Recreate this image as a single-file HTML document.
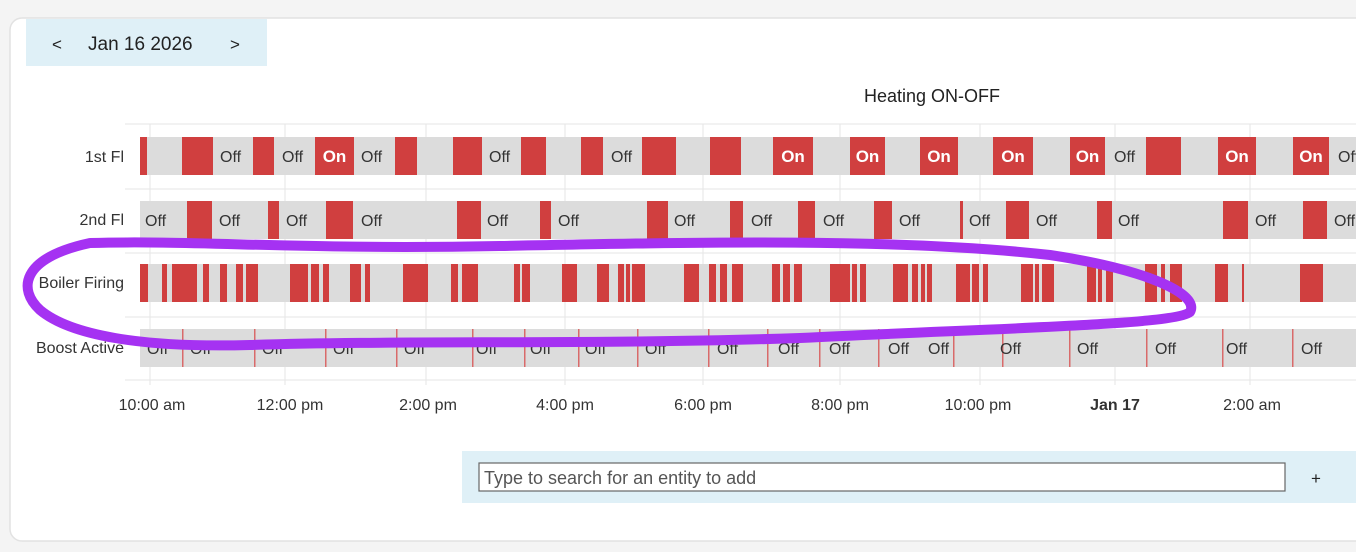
<!DOCTYPE html>
<html><head><meta charset="utf-8"><style>
html,body{margin:0;padding:0;background:#f4f4f4;width:1356px;height:552px;overflow:hidden;font-family:"Liberation Sans",sans-serif}
</style></head><body>
<svg id="s" width="1356" height="552" xmlns="http://www.w3.org/2000/svg" font-family="Liberation Sans, sans-serif">
<defs><clipPath id="lc"><rect x="34" y="120" width="100" height="260"/></clipPath></defs>
<rect x="10" y="18" width="1360" height="523" rx="12" fill="#fff" stroke="#e2e2e2" stroke-width="1.5"/>
<rect x="26" y="19" width="241" height="47" fill="#dff0f7"/>
<text x="52" y="50" font-size="17" fill="#222">&lt;</text>
<text x="88" y="50" font-size="19" fill="#222">Jan 16 2026</text>
<text x="230" y="50" font-size="17" fill="#222">&gt;</text>
<text x="932" y="102" font-size="18" fill="#222" text-anchor="middle">Heating ON-OFF</text>
<g id="grid" stroke="#e6e6e6" stroke-width="1"></g>
<g id="rows"></g>
<g font-size="16" fill="#333" text-anchor="middle">
<text x="152" y="410">10:00 am</text><text x="290" y="410">12:00 pm</text><text x="428" y="410">2:00 pm</text><text x="565" y="410">4:00 pm</text><text x="703" y="410">6:00 pm</text><text x="840" y="410">8:00 pm</text><text x="978" y="410">10:00 pm</text><text x="1115" y="410" font-weight="bold">Jan 17</text><text x="1252" y="410">2:00 am</text>
</g>
<g font-size="16" fill="#333" text-anchor="end" clip-path="url(#lc)">
<text x="124" y="162">1st Fl</text><text x="124" y="225">2nd Fl</text><text x="124" y="288">Boiler Firing</text><text x="124" y="353">Boost Active</text>
</g>
<rect x="462" y="451" width="900" height="52" fill="#dff0f7"/>
<rect x="479" y="463" width="806" height="28" fill="#fff" stroke="#666" stroke-width="1.2"/>
<text x="484" y="484" font-size="18" fill="#555">Type to search for an entity to add</text>
<text x="1311" y="484" font-size="17" fill="#222">+</text>
<path d="M90,243 C200,240 300,250 500,246 C700,242 900,238 1050,255 C1150,270 1200,295 1190,312 C1175,325 1000,328 800,338 C600,345 400,340 250,345 C140,348 70,335 40,310 C18,290 20,258 90,243" fill="none" stroke="#a532f2" stroke-width="10" stroke-linecap="round"/>
</svg>
<script>
var NS="http://www.w3.org/2000/svg",g=document.getElementById('rows'),gr=document.getElementById('grid');
function el(t,a,p){var e=document.createElementNS(NS,t);for(var k in a)e.setAttribute(k,a[k]);(p||g).appendChild(e);return e;}
[124,189,253,317,380].forEach(function(y){el('line',{x1:125,x2:1356,y1:y,y2:y},gr);});
[150,285,426,565,703,840,980,1115,1250].forEach(function(x){el('line',{x1:x,x2:x,y1:124,y2:385},gr);});
var Y=[137,201,264,329],H=38;
Y.forEach(function(y){el('rect',{x:140,y:y,width:1216,height:H,fill:'#dcdcdc'});});
function bars(y,a,lab){a.forEach(function(s){el('rect',{x:s[0],y:y,width:s[1]-s[0],height:H,fill:'#d03f3f'});if(s[2])el('text',{x:(s[0]+s[1])/2,y:y+25,'font-size':17,'font-weight':'bold',fill:'#fff','text-anchor':'middle'}).textContent='On';});
lab.forEach(function(x){el('text',{x:x,y:y+25,'font-size':16,fill:'#333'}).textContent='Off';});}
bars(Y[0],[[140,147],[182,213],[253,274],[315,354,1],[395,417],[453,482],[521,546],[581,603],[642,676],[710,741],[773,813,1],[850,885,1],[920,958,1],[993,1033,1],[1070,1105,1],[1146,1181],[1218,1256,1],[1293,1329,1]],[220,282,361,489,611,1114,1338]);
bars(Y[1],[[187,212],[268,279],[326,353],[457,481],[540,551],[647,668],[730,743],[798,815],[874,892],[960,963],[1006,1029],[1097,1112],[1223,1248],[1303,1327]],[145,219,286,361,487,558,674,751,823,899,969,1036,1118,1255,1334]);
bars(Y[2],[[140,148],[162,167],[172,197],[203,209],[220,227],[236,243],[246,258],[290,308],[311,319],[323,329],[350,361],[365,370],[403,428],[451,458],[462,478],[514,520],[522,530],[562,577],[597,609],[618,624],[626,630],[632,645],[684,699],[709,716],[720,727],[732,743],[772,780],[783,790],[794,802],[830,850],[852,857],[860,866],[893,908],[912,918],[921,925],[927,932],[956,970],[972,979],[983,988],[1021,1033],[1035,1039],[1042,1054],[1087,1096],[1098,1102],[1106,1113],[1145,1157],[1161,1165],[1170,1182],[1215,1228],[1242,1244],[1300,1323]],[]);
[182,254,325,396,472,524,578,637,708,767,819,878,953,1002,1069,1146,1222,1292].forEach(function(x){el('rect',{x:x,y:Y[3],width:1.5,height:H,fill:'#d96a6a'});});
bars(Y[3],[],[147,190,262,333,404,476,530,585,645,717,778,829,888,928,1000,1077,1155,1226,1301]);
</script>
</body></html>
